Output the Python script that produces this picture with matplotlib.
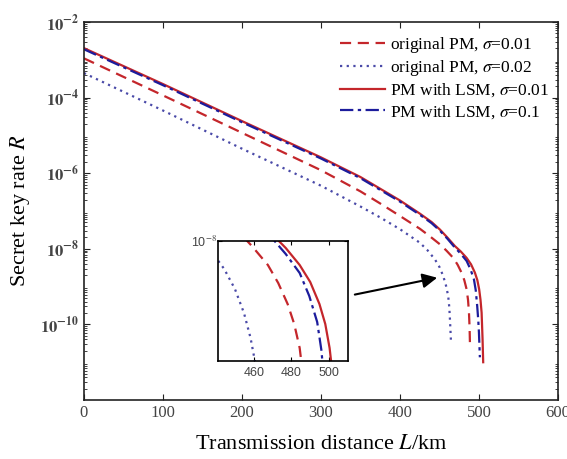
import numpy as np
import matplotlib
matplotlib.use("Agg")
import matplotlib.pyplot as plt
from matplotlib.ticker import LogLocator, FixedLocator, NullFormatter, NullLocator

# Times-like fonts for the main plot
plt.rcParams["font.family"] = ["Liberation Serif", "DejaVu Serif"]
plt.rcParams["mathtext.fontset"] = "stix"

# ---- data (distance in km, log10 of key rate) ----
L_orig_001 = [0, 100, 200, 300, 350, 375, 400, 425.3, 438, 450.6, 459, 467.5, 473, 478,
              481.5, 484.4, 486.2, 487.4, 488.2, 488.7]
logR_orig_001 = [-2.96, -3.94, -4.93, -5.92, -6.48, -6.80, -7.13, -7.47, -7.67, -7.88, -8.05,
                 -8.24, -8.42, -8.63, -8.83, -9.07, -9.35, -9.69, -10.1, -10.57]

L_orig_002 = [0, 100, 200, 300, 350, 375, 400, 425.3, 435, 444.3, 450, 454.8, 458.3, 461.1,
              462.5, 463.3, 464.6]
logR_orig_002 = [-3.35, -4.34, -5.35, -6.33, -6.88, -7.17, -7.48, -7.84, -8.04, -8.28, -8.48,
                 -8.72, -8.97, -9.25, -9.55, -9.86, -10.44]

L_lsm_001 = [0, 100, 200, 300, 350, 375, 400, 425.3, 440, 450.6, 460, 469.7, 477, 484.4,
             490, 494.9, 498, 500.3, 502, 503.4, 504.6, 505.4]
logR_lsm_001 = [-2.69, -3.64, -4.62, -5.58, -6.10, -6.41, -6.72, -7.07, -7.29, -7.49, -7.70,
                -7.93, -8.07, -8.24, -8.41, -8.63, -8.83, -9.07, -9.35, -9.69, -10.39, -11.0]

L_lsm_01 = [0, 100, 200, 300, 350, 375, 400, 425.3, 440, 450.6, 460, 469.7, 477, 484.4,
            489.5, 493.7, 496, 497.8, 499.2, 500, 501.2]
logR_lsm_01 = [-2.72, -3.67, -4.65, -5.61, -6.13, -6.44, -6.75, -7.10, -7.32, -7.52, -7.73,
               -7.97, -8.13, -8.32, -8.55, -8.81, -9.10, -9.51, -9.90, -10.21, -10.87]

labels = [r"original PM, $\sigma$=0.01", r"original PM, $\sigma$=0.02",
          r"PM with LSM, $\sigma$=0.01", r"PM with LSM, $\sigma$=0.1"]

red = "#c4262b"
blue = "#1c1c9c"
dot_blue = "#4a4aa8"

series = [
    (L_orig_001, logR_orig_001, dict(color=red, ls=(0, (5, 3)))),
    (L_orig_002, logR_orig_002, dict(color=dot_blue, ls=(0, (1, 2)))),
    (L_lsm_001, logR_lsm_001, dict(color=red, ls="-")),
    (L_lsm_01, logR_lsm_01, dict(color=blue, ls=(0, (6, 2, 1.5, 2)))),
]

fig = plt.figure(figsize=(5.67, 4.59), dpi=100)
ax = fig.add_axes([0.148, 0.1285, 0.836, 0.8235])

for (L, lr, st), lab in zip(series, labels):
    ax.plot(L, 10 ** np.array(lr), lw=1.6, label=lab, **st)

ax.set_yscale("log")
ax.set_xlim(0, 600)
ax.set_ylim(1e-12, 1e-2)
ax.set_xticks([0, 100, 200, 300, 400, 500, 600])
ax.yaxis.set_major_locator(FixedLocator([1e-10, 1e-8, 1e-6, 1e-4, 1e-2]))
ax.set_yticklabels([r"$\mathbf{10^{-10}}$", r"$\mathbf{10^{-8}}$", r"$\mathbf{10^{-6}}$",
                    r"$\mathbf{10^{-4}}$", r"$\mathbf{10^{-2}}$"])
ax.yaxis.set_minor_locator(LogLocator(base=10, subs=np.arange(2, 10), numticks=30))
ax.yaxis.set_minor_formatter(NullFormatter())
ax.tick_params(which="both", direction="in", top=True, right=True, colors="#222",
               labelcolor="#444", labelsize=12)
ax.tick_params(which="major", length=4)
ax.tick_params(which="minor", length=2)
for s in ax.spines.values():
    s.set_linewidth(1.2)
    s.set_color("#222")

ax.set_xlabel(r"Transmission distance $L$/km", fontsize=16, labelpad=10)
ax.set_ylabel(r"Secret key rate $R$", fontsize=16, labelpad=6)

ax.legend(loc="upper right", bbox_to_anchor=(0.996, 0.985), frameon=False,
          fontsize=12.5, handlelength=2.6, handletextpad=0.3, labelspacing=0.2,
          borderaxespad=0)

# ---- inset zoom of the cut-off region ----
ins = fig.add_axes([0.3845, 0.2135, 0.2290, 0.2614])
for (L, lr, st), lab in zip(series, labels):
    ins.plot(L, 10 ** np.array(lr), lw=1.6, **st)
ins.set_yscale("log")
ins.set_xlim(441, 510)
ins.set_ylim(10 ** -9.2, 1e-8)
ins.set_xticks([460, 480, 500])
ins.yaxis.set_major_locator(FixedLocator([1e-8]))
ins.set_yticklabels([r"10$^{-8}$"])
ins.yaxis.set_minor_locator(NullLocator())
for t in ins.get_xticklabels() + ins.get_yticklabels():
    t.set_family(["Liberation Sans", "DejaVu Sans"])
ins.tick_params(direction="in", top=True, right=True, length=3, labelsize=9,
                labelcolor="#444", pad=4)
ins.tick_params(axis="y", pad=1)
for s in ins.spines.values():
    s.set_linewidth(1.2)

# arrow pointing from inset to the curve ends
ax.annotate("", xy=(450.6, 10 ** -8.75), xycoords="data",
            xytext=(0.621, 0.357), textcoords="figure fraction",
            arrowprops=dict(arrowstyle="-|>", mutation_scale=22, color="k", lw=1.5))

fig.savefig("out.png", dpi=100)
